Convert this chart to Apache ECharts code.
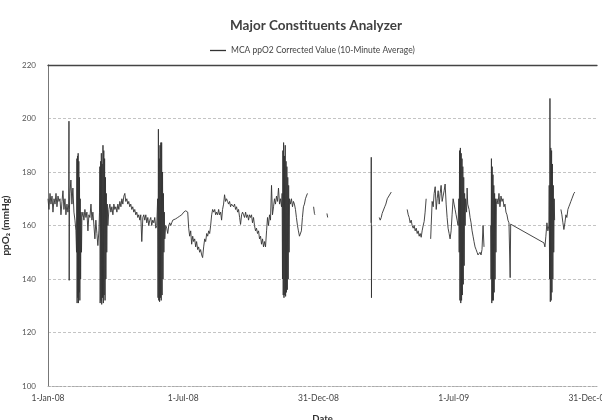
<!DOCTYPE html>
<html>
<head>
<meta charset="utf-8">
<script src="https://cdn.jsdelivr.net/npm/echarts@6/dist/echarts.min.js"></script>
<style>
    html, body { margin: 0; padding: 0; background: #fff; }
    #chart { width: 602px; height: 420px; }
</style>
</head>
<body>
<div id="chart"></div>
<script>
// x = days since 1-Jan-08, y = ppO2 (mmHg); null marks a gap in the record
const dateTicks = ["1-Jan-08", "1-Jul-08", "31-Dec-08", "1-Jul-09", "31-Dec-09"];
const tickStep = 182.5;
const yTicks = [100, 120, 140, 160, 180, 200, 220];

const ppo2Readings = [
    [0,170],[1.3,166],[2.7,172],[4,168],[5.4,171],[6.7,165],[8.1,170],[9.5,168],[10.8,172],[12.1,167],
    [13.5,171],[14.8,169],[16.2,170],[17.5,164],[18.9,169],[20.2,173],[21.5,166],[22.9,170],[24.2,164],[25.6,168],
    [26.9,165],[28,168],[28.3,199],[28.6,139.5],[28.9,166],[29.6,172],[30.9,177],[32.3,168],[33.6,174],[35,165],
    [36.4,162],[37.7,158],
    [38.5,150],[39,185],[39.3,131],[39.8,186],[40.2,133],[40.7,187],[41.1,131],[41.6,184],[42,135],[42.5,178],
    [43,132],[43.5,170],[44,140],[44.6,165],[45.2,150],[45.8,163],
    [47.1,165],[48.5,162],[49.8,166],[51.2,163],[52.5,165],[53.9,158],[55.2,164],[56.6,163],[58,168],[59.3,162],
    [60.6,165],[62,160],[63.3,155],[64.6,162],[66,157],[67.3,152.5],[68.7,158],
    [69.5,165],[70,182],[70.4,131],[71,184],[71.5,132],[72,187],[72.5,130.5],[73.1,183],[73.6,133],[74.2,190],
    [74.7,131],[75.3,188],[75.8,134],[76.4,185],[77,132],[77.6,178],[78.1,140],[78.7,172],[79.3,150],[80,168],[80.8,160],
    [82.2,166],[83.5,168],[84.9,165],[86.2,167],[87.6,164],[88.9,168],[90.2,166],[91.6,167],[93,165],[94.3,168],
    [95.6,166],[97,169],[98.4,167],[99.7,170],[101,168],[102.4,171],[103.7,172],[105,169],[106.4,170],[107.7,168],
    [109,169],[110.4,167],[111.7,168],[113.1,166],[114.4,167],[115.8,165],[117.1,166],[118.5,164],[119.8,165],[121.2,163],
    [122.5,164],[124,162],[125.2,164],[126.6,154],[128,163],[129.3,164],[130.6,162],[132,164],[133.3,161],[134.7,163],
    [136,160],[137.4,162],[138.7,163],[140,160],[141.4,162],[142.8,161],[144.1,163],[145.5,159],[146.8,160],
    [148,170],[148.5,133],[149,196],[149.5,132],[150.1,185],[150.6,131.5],[151.2,190],[151.7,133],[152.3,191],[152.8,132],
    [153.4,191],[154,134],[154.6,180],[155.2,140],[155.8,172],[156.4,150],[157,165],[157.6,155],
    [158.9,160],[160.2,159],[161.6,157],[163,160],[164.3,161],[165.7,160],[167,161],[168.4,162],[169.7,161.5],[171,162],
    [172.4,162.5],[173.8,162],[175.1,163],[176.5,163],[177.8,163.5],[179.2,164],[180.5,164],[181.9,164.5],[183.2,165],[184.6,165],
    [185.9,165.5],[187.2,166],[188.6,165],[189.9,159],[191.2,156],[192.6,158],[193.9,153],[195.3,156],[196.6,154],[198,155],
    [199.3,152],[200.6,154],[202,151],[203.3,152],[204.7,150],[206,151],[207.4,149],[208.7,148],[210.1,152],[211.5,155],
    [212.8,154],[214.2,157],[215.5,156],[216.9,158],[218.2,157],[219.5,160],[220.9,164],[222.2,166],[223.6,165],[225,166],
    [226.3,164],[227.6,165],[229,164],[230.3,166],[231.6,164],[233,165],[234.3,162],[235.6,166],[237,168],[238.3,171.5],
    [239.7,169],[241,170],[242.4,169],[243.7,168],[245.1,169],[246.4,167],[247.8,168],[249.1,168],[250.5,167],[251.8,168],
    [253.2,166],[254.5,167],[255.9,165],[257.2,166],[258.6,163],[259.9,160.4],[261.3,164],[262.6,165],[264,164],[265.3,163],
    [266.7,165],[268,163],[269.4,164],[270.7,162],[272,164],[273.4,163],[274.7,164],[276,161],[277.4,163],[278.7,160],
    [280.1,158],[281.4,159],[282.8,157],[284.2,158],[285.5,155],[286.9,156],[288.2,153],[289.6,155],[290.9,152],[292.3,154],
    [293.6,152],[295,158],[296.3,163],[297.6,160],[299,164],[300.3,162],[301.7,175],[303,164],[304.4,167],[305.7,170],
    [307,168],[308.4,171],[309.8,169],[311.1,174],[312.5,168],[313.8,170],[315.2,167],
    [316,172],[316.5,140],[317,188],[317.5,134],[318,191],[318.5,133],[319.1,186],[319.6,134],[320.2,190],[320.7,133.5],
    [321.3,184],[321.8,135],[322.4,182],[323,136],[323.6,178],[324.2,140],[324.8,175],[325.4,150],[326,170],
    [327.3,168],[328.6,170],[330,167],[331.3,169],[332.6,168],[334,166],[335.3,163],[336.7,160],[338,158],[339.4,156],
    [340.7,155.7],[342,158],[343.4,163],[344.8,167],[346.1,168],[347.5,170],[348.8,171],[350.2,172],
    [354,null],
    [358.5,167],[359.6,164.5],[360.3,164],
    [368,null],
    [376.5,164.5],[377.5,163],
    [400,null],
    [436,161],[436.3,185.5],[436.6,133],[436.9,160],
    [442,null],
    [447.1,163],[448.4,162],[449.8,163],[451,164.5],[453,164.5],[454.5,167],[456,168],[457.9,170],[460,170.5],[463.3,172.5],
    [474,null],
    [484.8,166],[486.2,164],[487.5,163],[488.8,161],[490.2,162],[491.5,160],[492.9,159],[494.2,160],[495.6,158],[497,159],
    [498.3,157],[499.6,158],[501,156],[502.3,157],[503.7,155.6],[505,158],[506.4,160],[507.7,161.5],[509,165],[510.4,170],
    [513,null],
    [516.5,155],[517.2,160],[518.5,169],[519.9,167],[521.2,172],[522.6,174.5],[524,166],[525.3,170],[526.6,173],[528,168],
    [529.3,172],[530.6,175],[532,169],[533.3,171],[534.7,173],[536,175.5],[537.4,168],[538.7,163],[540,159],[541.4,157],
    [542.7,155],[544.1,158],[545.4,164],[546.8,170],[548.1,168],[549.5,166],[550.8,164],[552.2,162],[553.5,160],
    [554.5,170],[555,150],[555.5,188],[556,132],[556.6,189],[557.1,131],[557.7,187],[558.2,132],[558.8,185],[559.3,134],
    [559.9,182],[560.5,138],[561.1,178],[561.7,145],[562.3,172],[563,160],[563.6,170],
    [565,165],[565.7,174],[566.5,168],[568.3,166],[569.7,163],[571,161],[572.4,158],[573.7,156],[575,154],[576.4,152],
    [577.8,151],[579.1,150],[580.4,149],[581.8,148.6],[583.1,150],[584.5,149],[585.8,151],[587.2,160],[588.5,152],
    [592,null],
    [597.5,160],[598,140],[598.5,185],[599,131],[599.5,182],[600,132],[600.6,179],[601.1,132],[601.7,175],[602.2,135],
    [602.8,172],[603.4,140],[604,170],[604.6,150],[605.2,168],
    [606,170],[607.4,168],[608.7,172],[610,167],[611.4,171],[612.8,169],[614.1,170],[615.4,167],[616.8,168],[618.1,165],
    [619.5,164],[620.8,162],[622.2,161],[623.3,160.6],[623.8,140.5],[624.5,160.5],[669.4,153.5],[670.7,152],[672,156],[673.4,161],
    [674.7,158],[676.1,160],
    [676.5,175],[677,140],[677.5,207.5],[678,131.5],[678.6,189],[679.1,132],[679.7,188],[680.2,135],[680.8,183],[681.4,140],
    [682,175],[682.6,150],[683.2,170],[683.8,162],
    [688,null],
    [692.3,166],[693.6,164],[695,161],[696.3,158.5],[697.7,161],[699,164],[700.3,163],[701.7,166],[703,167],[704.4,168],
    [705.7,169],[707.1,170],[708.4,170.5],[709.8,172],[711.1,172.5]
];

const chart = echarts.init(document.getElementById("chart"));

function dateLabel(value) {
    const idx = Math.round(value / tickStep);
    if (Math.abs(idx * tickStep - value) > 0.01 || idx >= dateTicks.length) {
        return "";
    }
    return dateTicks[idx];
}

chart.setOption({
    animation: false,
    backgroundColor: "#fff",
    textStyle: { fontFamily: "Lato, 'Open Sans', sans-serif" },
    title: {
        text: "Major Constituents Analyzer",
        left: 311,
        top: 14,
        textAlign: "center",
        textStyle: { fontSize: 13.5, fontWeight: "bold", color: "#404040", fontFamily: "Lato" }
    },
    legend: {
        data: ["MCA ppO2 Corrected Value (10-Minute Average)"],
        left: 205,
        top: 41,
        icon: "rect",
        itemWidth: 16,
        itemHeight: 1.3,
        itemGap: 4,
        textStyle: { fontSize: 8.5, color: "#444" }
    },
    grid: { left: 48, right: 5, top: 65, bottom: 34, outerBoundsMode: "none" },
    xAxis: [
        {
            type: "value",
            min: 0,
            max: 741,
            interval: tickStep,
            name: "Date",
            nameLocation: "middle",
            nameGap: 28,
            nameTextStyle: { fontSize: 9.5, fontWeight: "bold", color: "#333" },
            axisLine: { show: true, lineStyle: { color: "#aaa", type: [2, 2], width: 1 } },
            axisTick: { show: false },
            splitLine: { show: false },
            axisLabel: { formatter: dateLabel, fontSize: 8.5, color: "#444", margin: 8, hideOverlap: false }
        },
        {
            type: "value",
            position: "top",
            min: 0,
            max: 741,
            axisLine: { show: true, lineStyle: { color: "#444", width: 1.3 } },
            axisTick: { show: false },
            axisLabel: { show: false },
            splitLine: { show: false }
        }
    ],
    yAxis: [
        {
            type: "value",
            min: yTicks[0],
            max: yTicks[yTicks.length - 1],
            interval: 20,
            name: "ppO\u2082 (mmHg)",
            nameLocation: "middle",
            nameGap: 31,
            nameTextStyle: { fontSize: 10, fontWeight: "bold", color: "#333" },
            axisLine: { show: true, lineStyle: { color: "#bbb", width: 1 } },
            axisTick: { show: false },
            axisLabel: { fontSize: 8, color: "#555", margin: 12 },
            splitLine: { show: true, lineStyle: { color: "#c4c4c4", type: [3, 2], width: 1 } }
        },
        {
            type: "value",
            position: "right",
            min: yTicks[0],
            max: yTicks[yTicks.length - 1],
            axisLine: { show: true, lineStyle: { color: "#777", width: 1 } },
            axisTick: { show: false },
            axisLabel: { show: false },
            splitLine: { show: false }
        }
    ],
    series: [
        {
            name: "MCA ppO2 Corrected Value (10-Minute Average)",
            type: "line",
            data: ppo2Readings.map(p => [p[0], p[1] == null ? "-" : p[1]]),
            showSymbol: false,
            symbol: "none",
            connectNulls: false,
            lineStyle: { color: "#333", width: 1, opacity: 0.9 },
            itemStyle: { color: "#333" }
        }
    ]
});
</script>
</body>
</html>
